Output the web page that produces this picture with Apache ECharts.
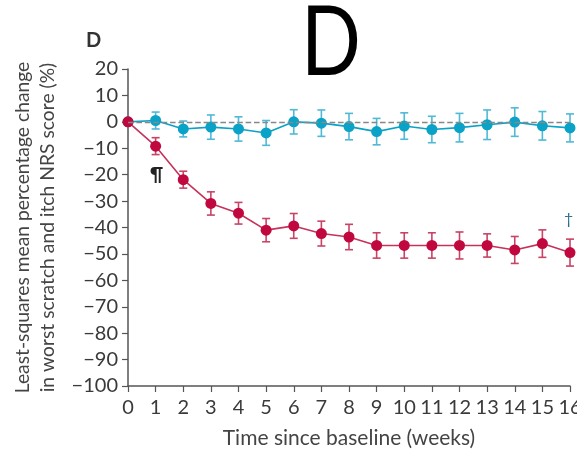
<!DOCTYPE html>
<html>
<head>
<meta charset="utf-8">
<script src="https://cdn.jsdelivr.net/npm/echarts@6/dist/echarts.min.js"></script>
<style>
  html, body { margin: 0; padding: 0; background: #fff; }
  #chart { width: 577px; height: 452px; }
</style>
</head>
<body>
<div id="chart"></div>
<script>
// weeks since baseline
const weeks = [0, 1, 2, 3, 4, 5, 6, 7, 8, 9, 10, 11, 12, 13, 14, 15, 16]
// red group: mean % change and error half-width
const treatMean = [0, -9.2, -21.9, -30.9, -34.6, -41, -39.4, -42.3, -43.6, -46.8, -46.8, -46.8, -46.8, -46.8, -48.5, -46.1, -49.5]
const treatErr = [0, 3.2, 3.2, 4.4, 4.1, 4.4, 4.7, 4.7, 4.8, 4.8, 4.8, 4.8, 5.1, 4.4, 5.1, 5.2, 5.1]
// blue group (placebo)
const placeboMean = [0, 0.5, -2.7, -2, -2.7, -4.2, 0, -0.5, -1.8, -3.7, -1.6, -2.9, -2.2, -1.1, -0.1, -1.5, -2.3]
const placeboErr = [0, 3.2, 3, 4.6, 4.6, 4.7, 4.6, 5, 5, 5, 5, 5, 5.4, 5.6, 5.4, 5.4, 5.3]
const yTicks = [20, 10, 0, -10, -20, -30, -40, -50, -60, -70, -80, -90, -100]

const RED = '#c1083e'
const BLUE = '#0aa2c6'
const font = 'Lato, "Open Sans", sans-serif'

const chart = echarts.init(document.getElementById('chart'))

function errorBars(means, errs, color) {
  const data = weeks.map((w, i) => [w, means[i] - errs[i], means[i] + errs[i]])
  return {
    type: 'custom',
    data: data,
    z: 1,
    silent: true,
    renderItem: function (params, api) {
      if (api.value(1) === api.value(2)) return
      const lo = api.coord([api.value(0), api.value(1)])
      const hi = api.coord([api.value(0), api.value(2)])
      const hw = 4
      const style = { stroke: color, lineWidth: 1.6 }
      return {
        type: 'group',
        children: [
          { type: 'line', shape: { x1: lo[0], y1: lo[1], x2: hi[0], y2: hi[1] }, style: style },
          { type: 'line', shape: { x1: lo[0] - hw, y1: lo[1], x2: lo[0] + hw, y2: lo[1] }, style: style },
          { type: 'line', shape: { x1: hi[0] - hw, y1: hi[1], x2: hi[0] + hw, y2: hi[1] }, style: style }
        ]
      }
    }
  }
}

const option = {
  animation: false,
  grid: { left: 128, right: 7, top: 69, bottom: 66, outerBoundsMode: 'none' },
  xAxis: {
    type: 'value',
    min: 0, max: 16, interval: 1,
    name: 'Time since baseline (weeks)',
    nameLocation: 'middle',
    nameGap: 42,
    nameTextStyle: { fontFamily: font, fontSize: 21, color: '#444' },
    axisLine: { onZero: false, lineStyle: { color: '#555', width: 1.5 } },
    axisTick: { lineStyle: { color: '#555', width: 1.2 }, length: 6 },
    axisLabel: { fontFamily: font, fontSize: 20, color: '#3a3a3a', margin: 12 },
    splitLine: { show: false }
  },
  yAxis: {
    type: 'value',
    min: -100, max: 20, interval: 10,
    name: 'Least-squares mean percentage change\nin worst scratch and itch NRS score (%)',
    nameLocation: 'middle',
    nameGap: 58,
    nameTextStyle: { fontFamily: font, fontSize: 19.3, color: '#444', lineHeight: 25 },
    axisLine: { show: true, onZero: false, lineStyle: { color: '#555', width: 1.5 } },
    axisTick: { show: true, lineStyle: { color: '#555', width: 1.2 }, length: 6 },
    axisLabel: {
      fontFamily: font, fontSize: 20, color: '#3a3a3a', margin: 10,
      formatter: v => yTicks.includes(v) ? String(v).replace('-', '\u2212') : ''
    },
    splitLine: { show: false }
  },
  series: [
    errorBars(placeboMean, placeboErr, '#4fb9d6'),
    {
      type: 'line',
      data: weeks.map((w, i) => [w, placeboMean[i]]),
      symbol: 'circle', symbolSize: 11,
      itemStyle: { color: BLUE },
      lineStyle: { color: BLUE, width: 1.6 },
      z: 2,
      markLine: {
        silent: true, symbol: 'none', label: { show: false },
        lineStyle: { color: '#888', type: 'dashed', width: 1.4 },
        data: [{ yAxis: 0 }]
      }
    },
    errorBars(treatMean, treatErr, '#c84466'),
    {
      type: 'line',
      data: weeks.map((w, i) => [w, treatMean[i]]),
      symbol: 'circle', symbolSize: 11,
      itemStyle: { color: RED },
      lineStyle: { color: '#c6325a', width: 1.6 },
      z: 3
    }
  ],
  graphic: [
    {
      type: 'text', x: 331, y: 44, scaleX: 0.82,
      style: { text: 'D', fontFamily: font, fontSize: 96, fill: '#000', align: 'center', verticalAlign: 'middle' }
    },
    { type: 'text', left: 86, top: 31, style: { text: 'D', fontFamily: font, fontSize: 20, fontWeight: 'bold', fill: '#333' } },
    { type: 'text', left: 150, top: 166, style: { text: '\u00b6', fontFamily: font, fontSize: 18, fontWeight: 'bold', fill: '#222' } },
    { type: 'text', left: 564, top: 211, style: { text: '\u2020', fontFamily: font, fontSize: 16, fill: '#2a6f8c' } }
  ]
}

chart.setOption(option)
</script>
</body>
</html>
